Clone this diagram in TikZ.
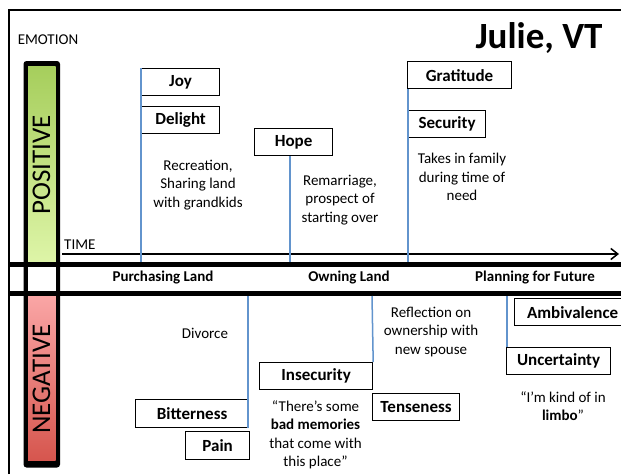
\documentclass[tikz,border=0pt]{standalone}
\usepackage{fontspec}
\setmainfont{Carlito}
\usetikzlibrary{arrows.meta}
\definecolor{evblue}{RGB}{98,148,205}
\definecolor{posdark}{RGB}{166,206,92}
\definecolor{poslight}{RGB}{222,245,168}
\definecolor{neglight}{RGB}{250,166,166}
\definecolor{negdark}{RGB}{214,86,78}
\tikzset{
  feeling/.style={draw=black, line width=1.2pt, fill=white, inner sep=0pt,
    anchor=north west, font=\bfseries\fontsize{17}{20}\selectfont},
  note/.style={align=center, inner sep=0pt, font=\fontsize{15}{18.5}\selectfont},
  phase/.style={inner sep=0pt, font=\bfseries\fontsize{15}{18}\selectfont},
  evline/.style={draw=evblue, line width=1.5pt},
  divider/.style={line width=4.5pt},
  axislabel/.style={inner sep=0pt, font=\fontsize{15}{18}\selectfont},
  sidelabel/.style={inner sep=0pt, rotate=90, font=\fontsize{27}{30}\selectfont}
}
\begin{document}
\begin{tikzpicture}[x=1pt,y=-1pt]
\useasboundingbox (0,0) rectangle (621,474);
\fill[white] (0,0) rectangle (621,474);

% outer frame
\draw[line width=1.2pt] (9,474) -- (9,10) -- (621,10);

% headings
\node[axislabel] (emotion) at (48,40) {EMOTION};
\node[inner sep=0pt, font=\bfseries\fontsize{37}{40}\selectfont] (title) at (539,38) {Julie, VT};

% emotion bar
\fill[black, rounded corners=3pt] (23.5,61) rectangle (60,467.5);
\shade[top color=posdark, bottom color=poslight] (28,66) rectangle (55.5,263);
\fill[white] (28,266) rectangle (55.5,292);
\shade[top color=neglight, bottom color=negdark] (28,295) rectangle (55.5,460);
\node[sidelabel] (pos) at (41.5,165) {POSITIVE};
\node[sidelabel] (neg) at (41.5,379) {NEGATIVE};

% phase band
\draw[divider] (10,264.5) -- (621,264.5);
\draw[divider] (10,293.5) -- (621,293.5);
\node[phase] (ph1) at (163,278) {Purchasing Land};
\node[phase] (ph2) at (349,278) {Owning Land};
\node[phase] (ph3) at (535,278) {Planning for Future};

% time axis
\node[axislabel, anchor=west] (time) at (64,245) {TIME};
\coordinate (t0) at (62,254);
\coordinate (t1) at (619,254);
\draw[line width=1.5pt, -{Straight Barb[length=7pt,width=11pt,line width=1.5pt]}] (t0) -- (t1);

% positive feelings
\node[feeling, minimum width=78, minimum height=27] (joy) at (141,68) {Joy};
\node[feeling, minimum width=78, minimum height=27] (delight) at (141,106) {Delight};
\node[feeling, minimum width=78, minimum height=27] (hope) at (254,128) {Hope};
\node[feeling, minimum width=104, minimum height=27] (gratitude) at (407,61) {Gratitude};
\node[feeling, minimum width=77, minimum height=27] (security) at (408,110) {Security};

\node[note] (rec) at (198,185) {Recreation,\\Sharing land\\with grandkids};
\node[note] (rem) at (340,200) {Remarriage,\\prospect of\\starting over};
\node[note] (tak) at (462,177) {Takes in family\\during time of\\need};

% negative feelings
\node[feeling, minimum width=113, minimum height=28] (bitterness) at (135,399) {Bitterness};
\node[feeling, minimum width=64, minimum height=28] (pain) at (185,431) {Pain};
\node[feeling, minimum width=113, minimum height=27] (insecurity) at (259,362) {Insecurity};
\node[feeling, minimum width=87, minimum height=27] (tenseness) at (372,393) {Tenseness};
\node[feeling, minimum width=116, minimum height=27] (ambivalence) at (514,298) {Ambivalence};
\node[feeling, minimum width=104, minimum height=27] (uncertainty) at (506,347) {Uncertainty};

\node[note] (div) at (205,333) {Divorce};
\node[note] (ref) at (431,332) {Reflection on\\ownership with\\new spouse};
\node[note] (bad) at (315.5,435) {“There’s some\\\textbf{bad memories}\\that come with\\this place”};
\node[note] (limbo) at (563,406) {“I’m kind of in\\\textbf{limbo}”};

% event markers on the axis
\coordinate (a1) at (141,262);
\coordinate (a2) at (290,262);
\coordinate (a3) at (408,262);
\coordinate (b1) at (248,296);
\coordinate (b2) at (372,296);
\coordinate (b3) at (507,296);
\draw[evline] (a1) -- (joy.north west);
\draw[evline] (a2) -- (a2 |- hope.south);
\draw[evline] (a3) -- (a3 |- gratitude.south);
\draw[evline] (b1) -- (b1 |- bitterness.south);
\draw[evline] (b2) -- (insecurity.north east);
\draw[evline] (b3) -- (b3 |- uncertainty.north);
\end{tikzpicture}
\end{document}
